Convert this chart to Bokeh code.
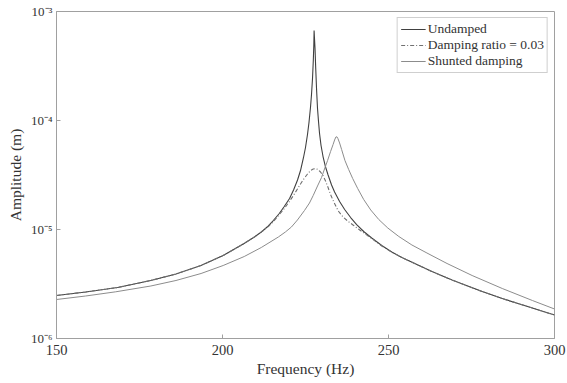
from bokeh.plotting import figure
from bokeh.models import FixedTicker, CustomJSTickFormatter
from bokeh.embed import file_html
from bokeh.resources import INLINE

# ---- data (frequency in Hz, amplitude in m) ----
undamped_f = [150.0, 158.8, 168.4, 178.4, 186.0, 193.5, 200.2, 206.5, 209.6, 211.7, 213.8,
              215.3, 217.1, 218.6, 220.2, 221.4, 222.6, 223.5, 224.4, 225.0, 225.6, 226.05,
              226.5, 226.81, 227.11, 227.35, 227.5, 227.59, 227.71, 227.87, 228.08, 228.32,
              228.62, 228.92, 229.23, 229.68, 230.28, 231.04, 231.8, 232.85, 233.76, 235.27,
              236.79, 238.6, 240.41, 242.53, 244.95, 247.97, 251.0, 254.02, 258.56, 263.09,
              269.14, 278.21, 284.26, 293.33, 300.0]
undamped_a = [2.480e-6, 2.672e-6, 2.937e-6, 3.405e-6, 3.905e-6, 4.674e-6, 5.774e-6, 7.440e-6,
              8.535e-6, 9.487e-6, 1.077e-5, 1.209e-5, 1.402e-5, 1.626e-5, 1.925e-5, 2.304e-5,
              2.846e-5, 3.477e-5, 4.577e-5, 5.653e-5, 7.440e-5, 9.587e-5, 1.316e-4, 1.732e-4,
              2.428e-4, 3.551e-4, 4.877e-4, 6.695e-4, 5.653e-4, 4.577e-4, 3.000e-4, 1.966e-4,
              1.288e-4, 9.790e-5, 7.598e-5, 5.896e-5, 4.674e-5, 3.744e-5, 3.162e-5, 2.560e-5,
              2.208e-5, 1.807e-5, 1.526e-5, 1.288e-5, 1.111e-5, 9.587e-6, 8.356e-6, 7.132e-6,
              6.217e-6, 5.535e-6, 4.774e-6, 4.119e-6, 3.441e-6, 2.700e-6, 2.328e-6, 1.905e-6,
              1.643e-6]

damped_f = [150.0, 158.8, 168.4, 178.4, 186.0, 193.5, 200.2, 206.5, 209.6, 211.7, 213.8, 215.32,
            217.13, 218.64, 220.15, 221.36, 222.57, 223.78, 224.69, 225.6, 226.5, 227.32, 228.02,
            228.77, 229.53, 230.28, 231.04, 231.8, 232.55, 233.46, 234.88, 236.18, 237.69,
            239.51, 241.32, 244.95, 247.97, 251.0, 254.02, 258.56, 263.09, 269.14, 278.21,
            284.26, 293.33, 300.0]
damped_a = [2.480e-6, 2.672e-6, 2.937e-6, 3.405e-6, 3.905e-6, 4.674e-6, 5.774e-6, 7.440e-6,
            8.535e-6, 9.487e-6, 1.065e-5, 1.184e-5, 1.373e-5, 1.558e-5, 1.807e-5, 2.050e-5,
            2.353e-5, 2.700e-5, 2.968e-5, 3.230e-5, 3.477e-5, 3.589e-5, 3.627e-5, 3.551e-5,
            3.369e-5, 3.129e-5, 2.786e-5, 2.428e-5, 2.095e-5, 1.807e-5, 1.478e-5, 1.316e-5,
            1.197e-5, 1.088e-5, 9.895e-6, 8.268e-6, 7.057e-6, 6.200e-6, 5.520e-6, 4.765e-6,
            4.110e-6, 3.435e-6, 2.696e-6, 2.325e-6, 1.903e-6, 1.641e-6]

shunted_f = [150.0, 158.77, 167.84, 178.42, 185.98, 193.54, 200.2, 206.55, 211.69, 216.83,
             218.94, 220.76, 222.57, 224.69, 226.2, 227.32, 228.62, 229.83, 230.83, 231.65,
             232.55, 233.31, 233.76, 234.15, 234.46, 234.76, 235.27, 235.88, 236.88, 238.0,
             239.21, 240.72, 242.53, 244.65, 247.07, 249.79, 253.11, 257.05, 261.58, 267.63,
             275.19, 284.26, 293.33, 300.0]
shunted_a = [2.279e-6, 2.454e-6, 2.682e-6, 3.032e-6, 3.405e-6, 3.947e-6, 4.674e-6, 5.653e-6,
             6.838e-6, 8.535e-6, 9.487e-6, 1.054e-5, 1.222e-5, 1.494e-5, 1.750e-5, 2.050e-5,
             2.507e-5, 3.000e-5, 3.666e-5, 4.295e-5, 5.195e-5, 6.022e-5, 6.625e-5, 7.057e-5,
             7.088e-5, 6.838e-5, 6.217e-5, 5.419e-5, 4.295e-5, 3.551e-5, 2.937e-5, 2.377e-5,
             1.885e-5, 1.510e-5, 1.235e-5, 1.032e-5, 8.627e-6, 7.208e-6, 6.087e-6, 4.877e-6,
             3.784e-6, 2.876e-6, 2.232e-6, 1.865e-6]

series_labels = ["Undamped", "Damping ratio = 0.03", "Shunted damping"]
x_ticks = [150, 200, 250, 300]
y_ticks = [1e-6, 1e-5, 1e-4, 1e-3]
y_tick_exps = [-6, -5, -4, -3]
y_tick_labels = ["10\u207b\u2076", "10\u207b\u2075", "10\u207b\u2074", "10\u207b\u00b3"]
x_title = "Frequency (Hz)"
y_title = "Amplitude (m)"

FONT = "Liberation Serif"
TXT = "#333333"
FRAME = "#a0a0a0"

p = figure(width=567, height=383, x_range=(150, 300), y_range=(1e-6, 1e-3),
           y_axis_type="log", output_backend="svg", toolbar_location=None,
           min_border_left=56, min_border_right=13, min_border_top=11, min_border_bottom=45,
           background_fill_color="white", border_fill_color="white")

p.line(undamped_f, undamped_a, line_color="#404040", line_width=1.1,
       legend_label=series_labels[0])
p.line(damped_f, damped_a, line_color="#707070", line_width=1.1, line_dash="4 2 1 2",
       legend_label=series_labels[1])
p.line(shunted_f, shunted_a, line_color="#8c8c8c", line_width=1.0,
       legend_label=series_labels[2])

p.xgrid.visible = False
p.ygrid.visible = False
p.outline_line_color = FRAME
p.outline_line_width = 1

p.xaxis.ticker = FixedTicker(ticks=x_ticks, minor_ticks=[])
p.yaxis.ticker = FixedTicker(ticks=y_ticks, minor_ticks=[])
p.yaxis.formatter = CustomJSTickFormatter(args=dict(exps=y_tick_exps, labels=y_tick_labels), code="""
const e = Math.round(Math.log10(tick));
for (let i = 0; i < exps.length; i++) { if (exps[i] === e) return labels[i]; }
return "";
""")

for ax in (p.xaxis[0], p.yaxis[0]):
    ax.axis_line_color = FRAME
    ax.major_tick_line_color = FRAME
    ax.major_tick_in = 4
    ax.major_tick_out = 0
    ax.minor_tick_in = 0
    ax.minor_tick_out = 0
    ax.major_label_text_font = FONT
    ax.major_label_text_color = TXT
    ax.axis_label_text_font = FONT
    ax.axis_label_text_color = TXT
    ax.axis_label_text_font_style = "normal"
    ax.axis_label_text_font_size = "15.5px"

p.xaxis.axis_label = x_title
p.yaxis.axis_label = y_title
p.xaxis.major_label_text_font_size = "14.5px"
p.yaxis.major_label_text_font_size = "13px"
p.xaxis.major_label_standoff = 6
p.yaxis.major_label_standoff = 4
p.xaxis.axis_label_standoff = 2
p.yaxis.axis_label_standoff = 4

lg = p.legend[0]
lg.location = "top_right"
lg.margin = 6
lg.padding = 3
lg.spacing = 0
lg.label_text_font = FONT
lg.label_text_font_size = "13.5px"
lg.label_text_color = TXT
lg.label_standoff = 2
lg.label_height = 16
lg.glyph_height = 16
lg.glyph_width = 25
lg.border_line_color = FRAME
lg.border_line_width = 1
lg.background_fill_color = "white"
lg.background_fill_alpha = 1.0

open("out.html", "w").write(file_html(p, INLINE))
